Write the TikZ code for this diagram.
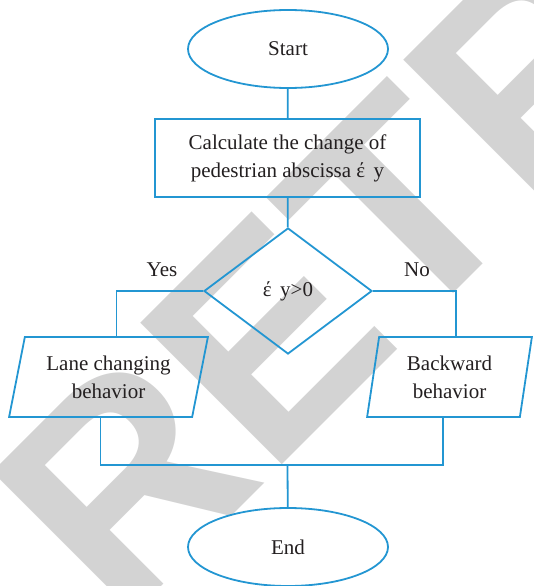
\documentclass[tikz,border=0pt]{standalone}
\usepackage{fontspec}
\setmainfont{Liberation Serif}
\newfontfamily\stampfont{Liberation Sans}
\usetikzlibrary{shapes.geometric}
\usetikzlibrary{calc}
\definecolor{flowblue}{RGB}{35,150,210}
\definecolor{stampgray}{RGB}{211,211,211}
\definecolor{inkgray}{RGB}{35,31,32}

\begin{document}
\begin{tikzpicture}[x=1pt,y=-1pt,line width=1.8pt,
    txt/.style={font=\fontsize{21}{28}\selectfont, text=inkgray},
    terminal/.style={txt, draw=flowblue, ellipse, minimum width=200pt, minimum height=78pt},
    process/.style={txt, draw=flowblue, rectangle, minimum width=265pt, minimum height=78pt, align=center},
    decision/.style={txt, draw=flowblue, diamond, minimum width=168pt, minimum height=126pt, aspect=1.33, inner sep=0pt},
    inout/.style={txt, draw=flowblue, trapezium, trapezium stretches=true, minimum height=80pt, align=center},
    link/.style={draw=flowblue}]
        \useasboundingbox (0,0) rectangle (533,586);
        % watermark behind the chart
        \node[font=\stampfont\bfseries\fontsize{291}{291}\selectfont, text=stampgray, rotate=45, anchor=base west, inner sep=0pt] (stamp) at (119.5,628) {RETRACTED};

        \node[terminal] (start) at (288,49) {Start};
        \node[process] (calc) at (287.5,158) {Calculate the change of\\pedestrian abscissa έ\hspace{0.4em}y};
        \node[decision] (cond) at (288,291) {έ\hspace{0.4em}y>0};
        \node[inout, trapezium left angle=76, trapezium right angle=104, minimum width=199pt] (lane) at (108.5,377) {Lane changing\\behavior};
        \node[inout, trapezium left angle=81, trapezium right angle=99, minimum width=165pt] (back) at (449.5,377) {Backward\\behavior};
        \node[terminal] (end) at (288,547) {End};
        \node[txt] (yes) at (162,270) {Yes};
        \node[txt] (no) at (417,270) {No};

        \coordinate (lanetop) at ($(lane.top left corner)!.5!(lane.top right corner)$);
        \coordinate (backtop) at ($(back.top left corner)!.5!(back.top right corner)$);
        \coordinate (lanebot) at ($(lane.bottom left corner)!.5!(lane.bottom right corner)$);
        \coordinate (backbot) at ($(back.bottom left corner)!.5!(back.bottom right corner)$);
        \coordinate (merge) at (287.5,465);

        \draw[link] (start) -- (calc);
        \draw[link] (calc) -- (cond);
        \draw[link] (cond.west) -| (lanetop);
        \draw[link] (cond.east) -| (backtop);
        \draw[link] (lanebot) |- (merge) -| (backbot);
        \draw[link] (merge) -- (end);
    \end{tikzpicture}
\end{document}
